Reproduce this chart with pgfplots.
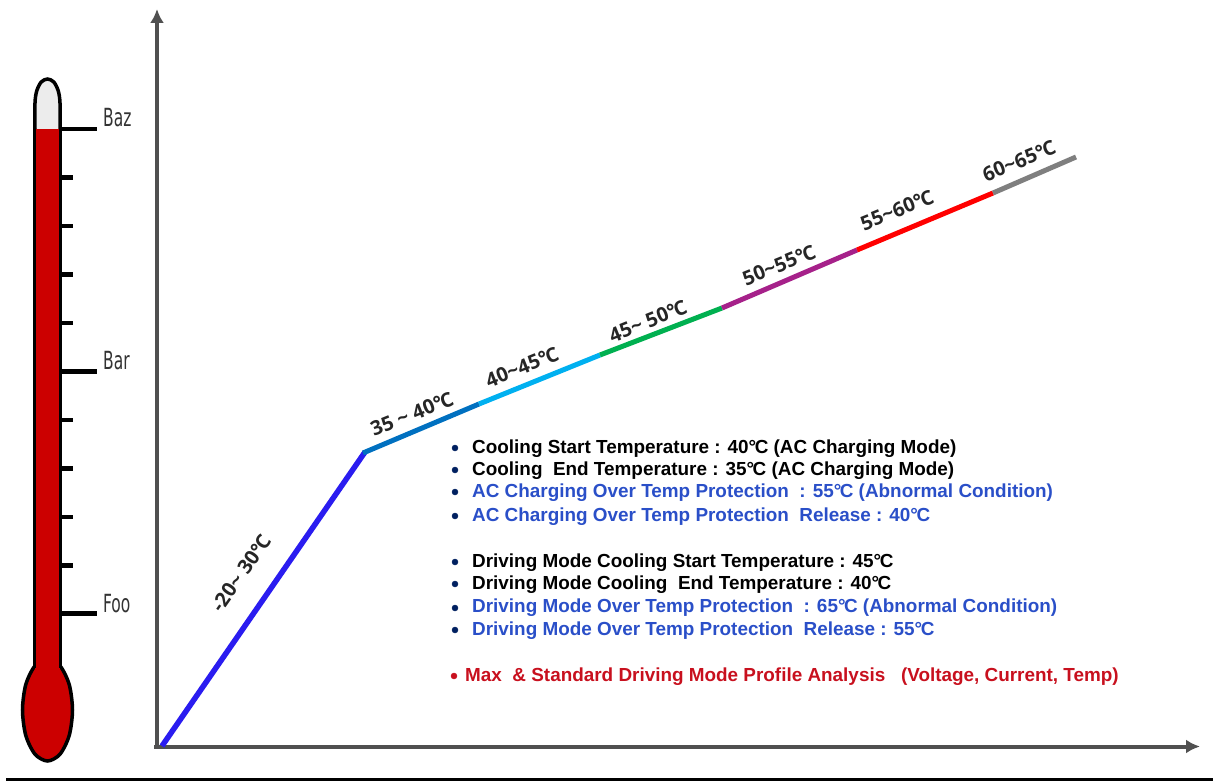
\documentclass[border=0pt]{standalone}
\usepackage{fontspec}
\setmainfont{Liberation Sans}
\newfontfamily\labelfont{Open Sans}
\newfontfamily\scalefont{DejaVu Sans}
\usepackage{pgfplots}
\pgfplotsset{compat=1.18}
\usetikzlibrary{arrows.meta}
\definecolor{axisgrey}{HTML}{505050}
\definecolor{tred}{HTML}{CC0000}
\definecolor{tglass}{HTML}{ECECEC}
\definecolor{bullet}{HTML}{002060}
\definecolor{txtblue}{HTML}{2A4FC8}
\definecolor{txtred}{HTML}{C8101E}
\newcommand{\dc}{°\kern-1.5pt C}
\newcommand{\seglabel}[4]{\node[rotate=#3,font=\labelfont\fontsize{20}{22}\selectfont\bfseries,text=black!85] at (axis cs:#1,#2) {#4};}
\newcommand{\scalelabel}[2]{\node[anchor=west,xscale=0.62,font=\scalefont\fontsize{25}{27}\selectfont,text=black!80,inner sep=0pt] at (axis cs:103,#1) {#2};}
\newcommand{\infoline}[4][472]{\node[anchor=base west,inner sep=0pt,text=#3,font=\fontsize{18.9}{21}\selectfont\bfseries] at (axis cs:#1,#2) {#4};}
\begin{document}
\begin{tikzpicture}
\path[use as bounding box] (0,0) rectangle (1213pt,781pt);
\begin{axis}[
    at={(0pt,0pt)}, anchor=south west,
    scale only axis,
    width=1213pt, height=781pt,
    xmin=0, xmax=1213,
    ymin=0, ymax=781,
    y dir=reverse,
    hide axis,
    clip=false,
]
% thermometer glass top
\addplot[fill=tglass, draw=black, line width=3.5pt, smooth] coordinates {
    (35,129) (35,103) (36.7,91) (41.2,82) (47.5,79) (53.8,82) (58.3,91) (60,103) (60,129)
};
% bulb
\addplot[fill=tred, draw=black, line width=3.5pt, smooth] coordinates {
    (47.5,659) (60,665.8) (69.2,684.5) (72.5,710) (69.2,735.5) (60,754.2) (47.5,761)
    (35,754.2) (25.8,735.5) (22.5,710) (25.8,684.5) (35,665.8) (47.5,659)
};
% stem
\addplot[fill=tred, draw=none] coordinates {(35,129) (60,129) (60,690) (35,690)} -- cycle;
\addplot[black, line width=3pt] coordinates {(34.5,129) (34.5,668)};
\addplot[black, line width=3pt] coordinates {(60.5,129) (60.5,668)};
% scale ticks
\addplot[black, line width=4.5pt] coordinates {(60,129) (97,129)};
\addplot[black, line width=4.5pt] coordinates {(60,371.5) (97,371.5)};
\addplot[black, line width=4.5pt] coordinates {(60,613.5) (97,613.5)};
\addplot[black, line width=4.5pt] coordinates {(60,177.5) (72.5,177.5)};
\addplot[black, line width=4.5pt] coordinates {(60,226) (72.5,226)};
\addplot[black, line width=4.5pt] coordinates {(60,274.5) (72.5,274.5)};
\addplot[black, line width=4.5pt] coordinates {(60,323) (72.5,323)};
\addplot[black, line width=4.5pt] coordinates {(60,420) (72.5,420)};
\addplot[black, line width=4.5pt] coordinates {(60,468.5) (72.5,468.5)};
\addplot[black, line width=4.5pt] coordinates {(60,517) (72.5,517)};
\addplot[black, line width=4.5pt] coordinates {(60,565.5) (72.5,565.5)};
\scalelabel{118}{Baz}
\scalelabel{361}{Bar}
\scalelabel{604}{Foo}
% axes
\addplot[axisgrey, line width=4pt, -{Latex[length=14pt,width=14pt]}] coordinates {(157,748) (157,9)};
\addplot[axisgrey, line width=4pt, -{Latex[length=14pt,width=14pt]}] coordinates {(154,746.5) (1200,746.5)};
% bottom rule
\addplot[black, line width=2.5pt] coordinates {(6,779.5) (1213,779.5)};
% temperature profile
\addplot[color={rgb,255:red,42;green,28;blue,240}, line width=5.5pt] coordinates {(162,746) (365,452)};
\addplot[color={rgb,255:red,0;green,112;blue,192}, line width=5pt] coordinates {(363,453) (479,404)};
\addplot[color={rgb,255:red,0;green,176;blue,240}, line width=5pt] coordinates {(479,404) (600,355)};
\addplot[color={rgb,255:red,0;green,176;blue,80}, line width=5pt] coordinates {(600,355) (722,308)};
\addplot[color={rgb,255:red,166;green,33;blue,138}, line width=5pt] coordinates {(722,308) (857,250)};
\addplot[color={rgb,255:red,255;green,0;blue,0}, line width=5pt] coordinates {(857,250) (993,193)};
\addplot[color={rgb,255:red,127;green,127;blue,127}, line width=5pt] coordinates {(993,193) (1076,157)};
\seglabel{241}{573}{55}{-20\textasciitilde{} 30\dc}
\seglabel{412}{414}{22}{35 \textasciitilde{} 40\dc}
\seglabel{522}{367}{22}{40\textasciitilde 45\dc}
\seglabel{648}{321}{22}{45\textasciitilde{} 50\dc}
\seglabel{779}{265}{22}{50\textasciitilde 55\dc}
\seglabel{897}{210}{22}{55\textasciitilde 60\dc}
\seglabel{1019}{161}{22}{60\textasciitilde 65\dc}
% bullets
\addplot[only marks, mark=*, mark size=3pt, color=bullet] coordinates {
    (455,448) (455,470) (455,492) (455,516)
    (455,562) (455,584) (455,608) (455,630)
};
\addplot[only marks, mark=*, mark size=3pt, color=txtred] coordinates {(454,676)};
% notes
\infoline{453}{black}{Cooling Start Temperature : 40\dc{} (AC Charging Mode)}
\infoline{475}{black}{Cooling\ \ End Temperature : 35\dc{} (AC Charging Mode)}
\infoline{497}{txtblue}{AC Charging Over Temp Protection\ \ : 55\dc{} (Abnormal Condition)}
\infoline{521}{txtblue}{AC Charging Over Temp Protection\ \ Release : 40\dc}
\infoline{567}{black}{Driving Mode Cooling Start Temperature : 45\dc}
\infoline{589}{black}{Driving Mode Cooling\ \ End Temperature : 40\dc}
\infoline{612}{txtblue}{Driving Mode Over Temp Protection\ \ : 65\dc{} (Abnormal Condition)}
\infoline{635}{txtblue}{Driving Mode Over Temp Protection\ \ Release : 55\dc}
\infoline[465]{681}{txtred}{Max\ \ \& Standard Driving Mode Profile Analysis\ \ \ (Voltage, Current, Temp)}
\end{axis}
\end{tikzpicture}
\end{document}
